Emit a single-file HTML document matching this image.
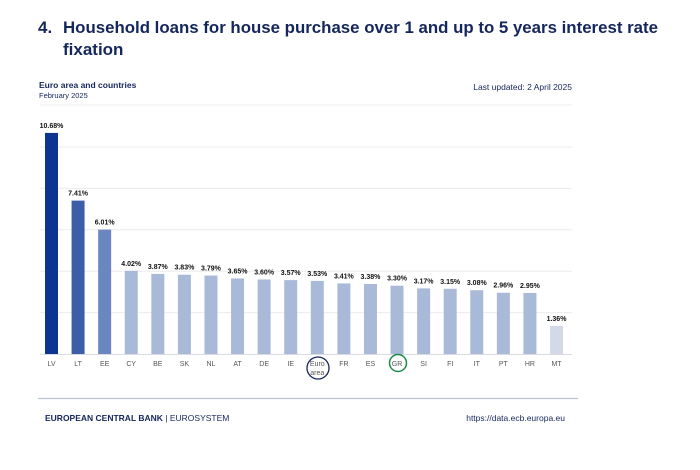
<!DOCTYPE html>
<html><head><style>
body{margin:0;background:#fff;width:700px;height:465px;overflow:hidden;font-family:"Liberation Sans",sans-serif;}
</style></head><body>
<svg width="700" height="465" xmlns="http://www.w3.org/2000/svg" font-family="Liberation Sans, sans-serif">
<text x="38" y="33" font-size="17" font-weight="bold" fill="#14265c">4.</text>
<text x="63" y="33" font-size="17" font-weight="bold" fill="#14265c" textLength="595" lengthAdjust="spacingAndGlyphs">Household loans for house purchase over 1 and up to 5 years interest rate</text>
<text x="63" y="55" font-size="17" font-weight="bold" fill="#14265c">fixation</text>
<text x="39" y="88" font-size="8.5" font-weight="bold" fill="#14265c">Euro area and countries</text>
<text x="39" y="98" font-size="7.5" fill="#14265c">February 2025</text>
<text x="572" y="90" font-size="8.5" fill="#14265c" text-anchor="end">Last updated: 2 April 2025</text>
<g stroke="#ececf0" stroke-width="1">
<line x1="40" x2="572" y1="105" y2="105"/>
<line x1="40" x2="572" y1="147" y2="147"/>
<line x1="40" x2="572" y1="188.4" y2="188.4"/>
<line x1="40" x2="572" y1="229.8" y2="229.8"/>
<line x1="40" x2="572" y1="271.2" y2="271.2"/>
<line x1="40" x2="572" y1="312.6" y2="312.6"/>
</g>
<line x1="40" x2="572" y1="354.5" y2="354.5" stroke="#d8dbe3"/>
<g id="bars" font-size="7" font-weight="bold" text-anchor="middle" fill="#111"></g>
<g id="labels" font-size="7" text-anchor="middle" fill="#555"></g>
<ellipse cx="318" cy="368" rx="11" ry="11" fill="none" stroke="#14265c" stroke-width="1.3"/>
<circle cx="398" cy="363" r="8.5" fill="none" stroke="#1a8a4a" stroke-width="1.5"/>
<line x1="38" x2="578" y1="398.5" y2="398.5" stroke="#b8c3d6" stroke-width="1.2"/>
<text x="45" y="421" font-size="8.5" fill="#14265c"><tspan font-weight="bold">EUROPEAN CENTRAL BANK</tspan> | EUROSYSTEM</text>
<text x="565" y="421" font-size="8.5" fill="#14265c" text-anchor="end">https://data.ecb.europa.eu</text>
</svg>
<script>
var d=[["LV",10.68,"#0b3590"],["LT",7.41,"#3c5ea8"],["EE",6.01,"#6c86c0"],["CY",4.02],["BE",3.87],["SK",3.83],["NL",3.79],["AT",3.65],["DE",3.60],["IE",3.57],["Euro area",3.53],["FR",3.41],["ES",3.38],["GR",3.30],["SI",3.17],["FI",3.15],["IT",3.08],["PT",2.96],["HR",2.95],["MT",1.36,"#d3d9e6"]];
var ns="http://www.w3.org/2000/svg",b=document.getElementById("bars"),l=document.getElementById("labels");
d.forEach(function(e,i){var cx=51.5+i*26.58,h=e[1]*20.7,y=354-h;
var r=document.createElementNS(ns,"rect");r.setAttribute("x",cx-6.5);r.setAttribute("y",y);r.setAttribute("width",13);r.setAttribute("height",h);r.setAttribute("fill",e[2]||"#a9b9d8");b.appendChild(r);
var t=document.createElementNS(ns,"text");t.setAttribute("x",cx);t.setAttribute("y",y-5);t.textContent=e[1].toFixed(2)+"%";b.appendChild(t);
if(e[0]=="Euro area"){["Euro","area"].forEach(function(s,k){var u=document.createElementNS(ns,"text");u.setAttribute("x",cx);u.setAttribute("y",366+k*9);u.textContent=s;l.appendChild(u);});}
else{var u=document.createElementNS(ns,"text");u.setAttribute("x",cx);u.setAttribute("y",366);u.textContent=e[0];l.appendChild(u);}
});
</script>
</body></html>
